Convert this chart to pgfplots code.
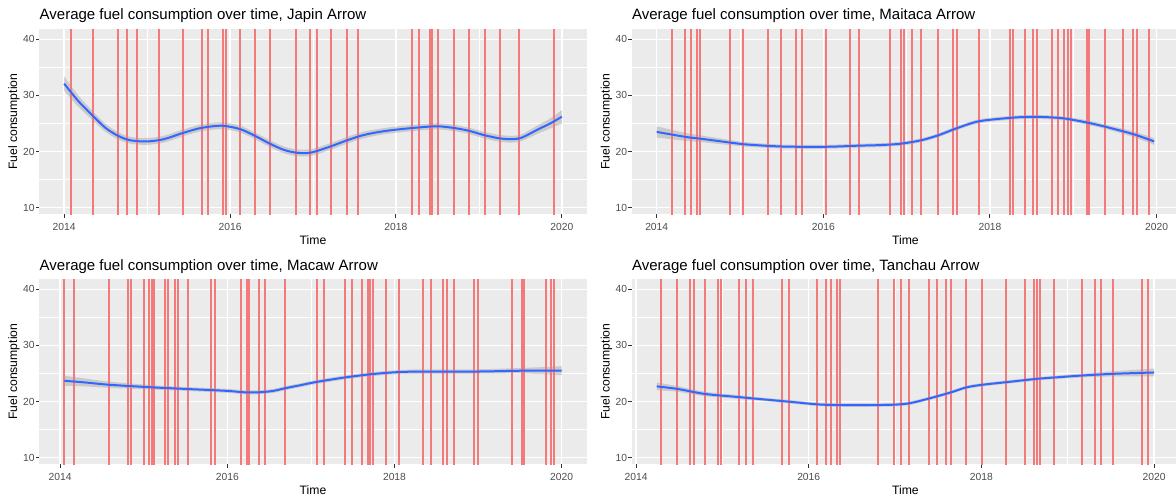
\documentclass[border=0pt]{standalone}
\usepackage{fontspec}
\setmainfont{Liberation Sans}
\usepackage{pgfplots}
\pgfplotsset{compat=1.18}
\usepackage{pgfplotstable}
\usepgfplotslibrary{fillbetween}

\definecolor{ggpanel}{HTML}{EBEBEB}
\definecolor{ggtick}{HTML}{333333}
\definecolor{ggtext}{HTML}{4D4D4D}
\definecolor{ggblue}{HTML}{3366FF}
\definecolor{ggband}{HTML}{999999}
\definecolor{ggevent}{RGB}{243,122,122}

% smoothed average with its confidence band (t, fit, lower, upper)
\pgfplotstableread{
t y lo hi
2014.00 32.1 30.8 33.4
2014.17 29.0 28.0 30.0
2014.35 26.3 25.5 27.1
2014.50 24.2 23.5 24.9
2014.65 22.8 22.15 23.45
2014.80 22.0 21.4 22.6
2015.00 21.8 21.2 22.4
2015.20 22.2 21.6 22.8
2015.43 23.3 22.7 23.9
2015.65 24.2 23.6 24.8
2015.90 24.6 24.0 25.2
2016.12 24.0 23.4 24.6
2016.30 22.8 22.2 23.4
2016.48 21.4 20.8 22.0
2016.65 20.3 19.7 20.9
2016.80 19.8 19.2 20.4
2016.97 19.8 19.2 20.4
2017.21 20.9 20.3 21.5
2017.41 22.0 21.4 22.6
2017.60 22.9 22.3 23.5
2017.80 23.5 22.95 24.05
2018.00 23.9 23.35 24.45
2018.28 24.3 23.75 24.85
2018.50 24.5 23.95 25.05
2018.70 24.2 23.65 24.75
2018.88 23.7 23.15 24.25
2019.07 22.9 22.3 23.5
2019.25 22.35 21.75 22.95
2019.40 22.2 21.6 22.8
2019.52 22.5 21.9 23.1
2019.72 24.0 23.25 24.75
2019.86 25.0 24.1 25.9
2020.00 26.2 25.0 27.4
}\smJapin

\pgfplotstableread{
t y lo hi
2014.00 23.5 22.5 24.5
2014.35 22.6 21.9 23.3
2014.52 22.3 21.7 22.9
2014.88 21.6 21.15 22.05
2015.04 21.3 20.9 21.7
2015.50 20.9 20.55 21.25
2016.03 20.85 20.5 21.2
2016.43 21.05 20.7 21.4
2016.68 21.15 20.8 21.5
2016.93 21.4 21.05 21.75
2017.17 22.0 21.65 22.35
2017.38 22.9 22.55 23.25
2017.61 24.2 23.85 24.55
2017.87 25.4 25.05 25.75
2018.24 26.0 25.65 26.35
2018.42 26.15 25.8 26.5
2018.64 26.15 25.8 26.5
2018.89 25.9 25.55 26.25
2019.17 25.15 24.75 25.55
2019.39 24.4 24.0 24.8
2019.72 23.1 22.6 23.6
2019.97 21.8 21.2 22.4
}\smMaitaca

\pgfplotstableread{
t y lo hi
2014.05 23.7 22.8 24.6
2014.30 23.4 22.7 24.1
2014.58 23.0 22.45 23.55
2015.08 22.55 22.15 22.95
2015.50 22.25 21.9 22.6
2016.00 21.9 21.55 22.25
2016.20 21.65 21.3 22.0
2016.38 21.65 21.3 22.0
2016.55 21.9 21.55 22.25
2016.70 22.4 22.05 22.75
2016.87 22.9 22.55 23.25
2017.07 23.5 23.15 23.85
2017.41 24.3 23.95 24.65
2017.74 24.9 24.55 25.25
2018.05 25.25 24.9 25.6
2018.35 25.35 24.95 25.75
2018.99 25.35 24.95 25.75
2019.55 25.5 25.0 26.0
2020.00 25.5 24.7 26.3
}\smMacaw

\pgfplotstableread{
t y lo hi
2014.24 22.7 22.0 23.4
2014.48 22.25 21.75 22.75
2014.80 21.35 20.95 21.75
2015.19 20.8 20.45 21.15
2015.36 20.55 20.25 20.85
2015.77 19.98 19.68 20.28
2016.10 19.5 19.2 19.8
2016.33 19.38 19.08 19.68
2016.80 19.38 19.08 19.68
2017.00 19.45 19.15 19.75
2017.17 19.7 19.4 20.0
2017.40 20.57 20.27 20.87
2017.65 21.65 21.35 21.95
2017.82 22.5 22.2 22.8
2018.00 22.97 22.67 23.27
2018.28 23.44 23.14 23.74
2018.64 24.04 23.74 24.34
2018.84 24.28 23.98 24.58
2019.17 24.64 24.29 24.99
2019.53 24.94 24.49 25.39
2020.00 25.18 24.48 25.88
}\smTanchau

% event dates (red vertical lines); each is a tall '|' mark centred
% mid-panel and clipped to the panel
\pgfplotstableread{
t mid
2014.087 25.3
2014.347 25.3
2014.647 25.3
2014.760 25.3
2014.881 25.3
2015.149 25.3
2015.430 25.3
2015.658 25.3
2015.730 25.3
2015.911 25.3
2015.947 25.3
2016.124 25.3
2016.301 25.3
2016.481 25.3
2016.794 25.3
2016.966 25.3
2017.054 25.3
2017.215 25.3
2017.408 25.3
2017.544 25.3
2018.197 25.3
2018.278 25.3
2018.407 25.3
2018.431 25.3
2018.506 25.3
2018.699 25.3
2018.879 25.3
2019.069 25.3
2019.253 25.3
2019.481 25.3
2019.902 25.3
}\evJapin

\pgfplotstableread{
t mid
2014.185 25.3
2014.345 25.3
2014.414 25.3
2014.486 25.3
2014.522 25.3
2014.875 25.3
2015.035 25.3
2015.336 25.3
2015.497 25.3
2015.677 25.3
2015.741 25.3
2016.030 25.3
2016.318 25.3
2016.427 25.3
2016.800 25.3
2016.932 25.3
2016.968 25.3
2017.068 25.3
2017.173 25.3
2017.381 25.3
2017.561 25.3
2017.609 25.3
2017.870 25.3
2018.243 25.3
2018.276 25.3
2018.424 25.3
2018.512 25.3
2018.565 25.3
2018.745 25.3
2018.817 25.3
2018.885 25.3
2018.938 25.3
2018.974 25.3
2019.166 25.3
2019.194 25.3
2019.386 25.3
2019.594 25.3
2019.715 25.3
2019.760 25.3
2019.907 25.3
}\evMaitaca

\pgfplotstableread{
t mid
2014.051 25.3
2014.162 25.3
2014.580 25.3
2014.807 25.3
2014.851 25.3
2015.006 25.3
2015.057 25.3
2015.098 25.3
2015.125 25.3
2015.257 25.3
2015.289 25.3
2015.376 25.3
2015.408 25.3
2015.527 25.3
2015.802 25.3
2015.853 25.3
2016.164 25.3
2016.239 25.3
2016.263 25.3
2016.378 25.3
2016.450 25.3
2016.689 25.3
2017.067 25.3
2017.154 25.3
2017.413 25.3
2017.496 25.3
2017.616 25.3
2017.683 25.3
2017.703 25.3
2017.742 25.3
2017.902 25.3
2018.049 25.3
2018.347 25.3
2018.431 25.3
2018.586 25.3
2018.634 25.3
2018.718 25.3
2018.957 25.3
2018.995 25.3
2019.406 25.3
2019.525 25.3
2019.552 25.3
2019.811 25.3
2019.878 25.3
2019.905 25.3
}\evMacaw

\pgfplotstableread{
t mid
2014.289 25.3
2014.478 25.3
2014.625 25.3
2014.672 25.3
2014.799 25.3
2014.946 25.3
2014.984 25.3
2015.193 25.3
2015.274 25.3
2015.359 25.3
2015.695 25.3
2015.772 25.3
2016.100 25.3
2016.197 25.3
2016.255 25.3
2016.325 25.3
2016.363 25.3
2016.800 25.3
2016.988 25.3
2017.070 25.3
2017.166 25.3
2017.397 25.3
2017.483 25.3
2017.587 25.3
2017.649 25.3
2017.822 25.3
2018.004 25.3
2018.282 25.3
2018.506 25.3
2018.610 25.3
2018.641 25.3
2018.680 25.3
2018.842 25.3
2019.170 25.3
2019.317 25.3
2019.386 25.3
2019.529 25.3
2019.858 25.3
2019.927 25.3
}\evTanchau

\pgfplotsset{
  ggpanel/.style={
    scale only axis, width=273.7pt, height=92.5pt, anchor=south west,
    ymin=8.82, ymax=41.78,
    ytick={10,20,30,40}, minor ytick={15,25,35},
    xtick={2014,2016,2018,2020}, minor xtick={2015,2017,2019},
    grid=both,
    major grid style={white, line width=0.7pt},
    minor grid style={white, line width=0.35pt},
    axis background/.style={fill=ggpanel},
    axis line style={draw=none},
    tick align=outside, tick pos=left,
    major tick length=1.65pt, minor tick length=0pt,
    tick style={ggtick, line width=0.5pt},
    clip marker paths=true,
    /pgf/number format/assume math mode=true,
    /pgf/number format/1000 sep={},
    ticklabel style={font=\fontsize{5.15}{6}\selectfont, text=ggtext, inner sep=0pt},
    xticklabel style={anchor=north, yshift=-2.9pt},
    yticklabel style={anchor=east, xshift=-0.5pt},
    every axis title/.style={at={(0,1)}, anchor=base west, yshift=4.65pt,
      font=\fontsize{7.5}{9}\selectfont, inner sep=0pt},
    xlabel={Time}, ylabel={Fuel consumption},
    every axis x label/.style={at={(0.5,0)}, anchor=base, yshift=-15.1pt,
      font=\fontsize{6.1}{7}\selectfont, inner sep=0pt},
    every axis y label/.style={at={(0,0.5)}, xshift=-12.65pt, rotate=90,
      anchor=center, font=\fontsize{6.1}{7}\selectfont, inner sep=0pt},
  },
  vline/.style={only marks, mark=|, mark size=60pt,
    mark options={draw=ggevent, line width=1pt}},
  bandedge/.style={draw=none, smooth, mark=none, forget plot},
  band/.style={fill=ggband, fill opacity=0.4, draw=none},
  fit/.style={ggblue, line width=1pt, smooth, mark=none},
}

\begin{document}
\begin{tikzpicture}

% top left
\begin{axis}[ggpanel, at={(19.65pt,-107.15pt)},
  xmin=2013.70, xmax=2020.30,
  title={Average fuel consumption over time, Japin Arrow}]
\addplot[vline] table[x=t, y=mid] {\evJapin};
\addplot[bandedge, name path=loA] table[x=t, y=lo] {\smJapin};
\addplot[bandedge, name path=hiA] table[x=t, y=hi] {\smJapin};
\addplot[band] fill between[of=loA and hiA];
\addplot[fit] table[x=t, y=y] {\smJapin};
\end{axis}

% top right
\begin{axis}[ggpanel, at={(315.85pt,-107.15pt)},
  xmin=2013.70, xmax=2020.27,
  title={Average fuel consumption over time, Maitaca Arrow}]
\addplot[vline] table[x=t, y=mid] {\evMaitaca};
\addplot[bandedge, name path=loB] table[x=t, y=lo] {\smMaitaca};
\addplot[bandedge, name path=hiB] table[x=t, y=hi] {\smMaitaca};
\addplot[band] fill between[of=loB and hiB];
\addplot[fit] table[x=t, y=y] {\smMaitaca};
\end{axis}

% bottom left
\begin{axis}[ggpanel, at={(19.65pt,-232.15pt)},
  xmin=2013.75, xmax=2020.30,
  title={Average fuel consumption over time, Macaw Arrow}]
\addplot[vline] table[x=t, y=mid] {\evMacaw};
\addplot[bandedge, name path=loC] table[x=t, y=lo] {\smMacaw};
\addplot[bandedge, name path=hiC] table[x=t, y=hi] {\smMacaw};
\addplot[band] fill between[of=loC and hiC];
\addplot[fit] table[x=t, y=y] {\smMacaw};
\end{axis}

% bottom right
\begin{axis}[ggpanel, at={(315.85pt,-232.15pt)},
  xmin=2013.95, xmax=2020.29,
  title={Average fuel consumption over time, Tanchau Arrow}]
\addplot[vline] table[x=t, y=mid] {\evTanchau};
\addplot[bandedge, name path=loD] table[x=t, y=lo] {\smTanchau};
\addplot[bandedge, name path=hiD] table[x=t, y=hi] {\smTanchau};
\addplot[band] fill between[of=loD and hiD];
\addplot[fit] table[x=t, y=y] {\smTanchau};
\end{axis}

% page = the reference's frame (the right panels run off its edge)
\pgfresetboundingbox
\useasboundingbox (0,0) rectangle (588pt,-248.5pt);
\end{tikzpicture}
\end{document}
